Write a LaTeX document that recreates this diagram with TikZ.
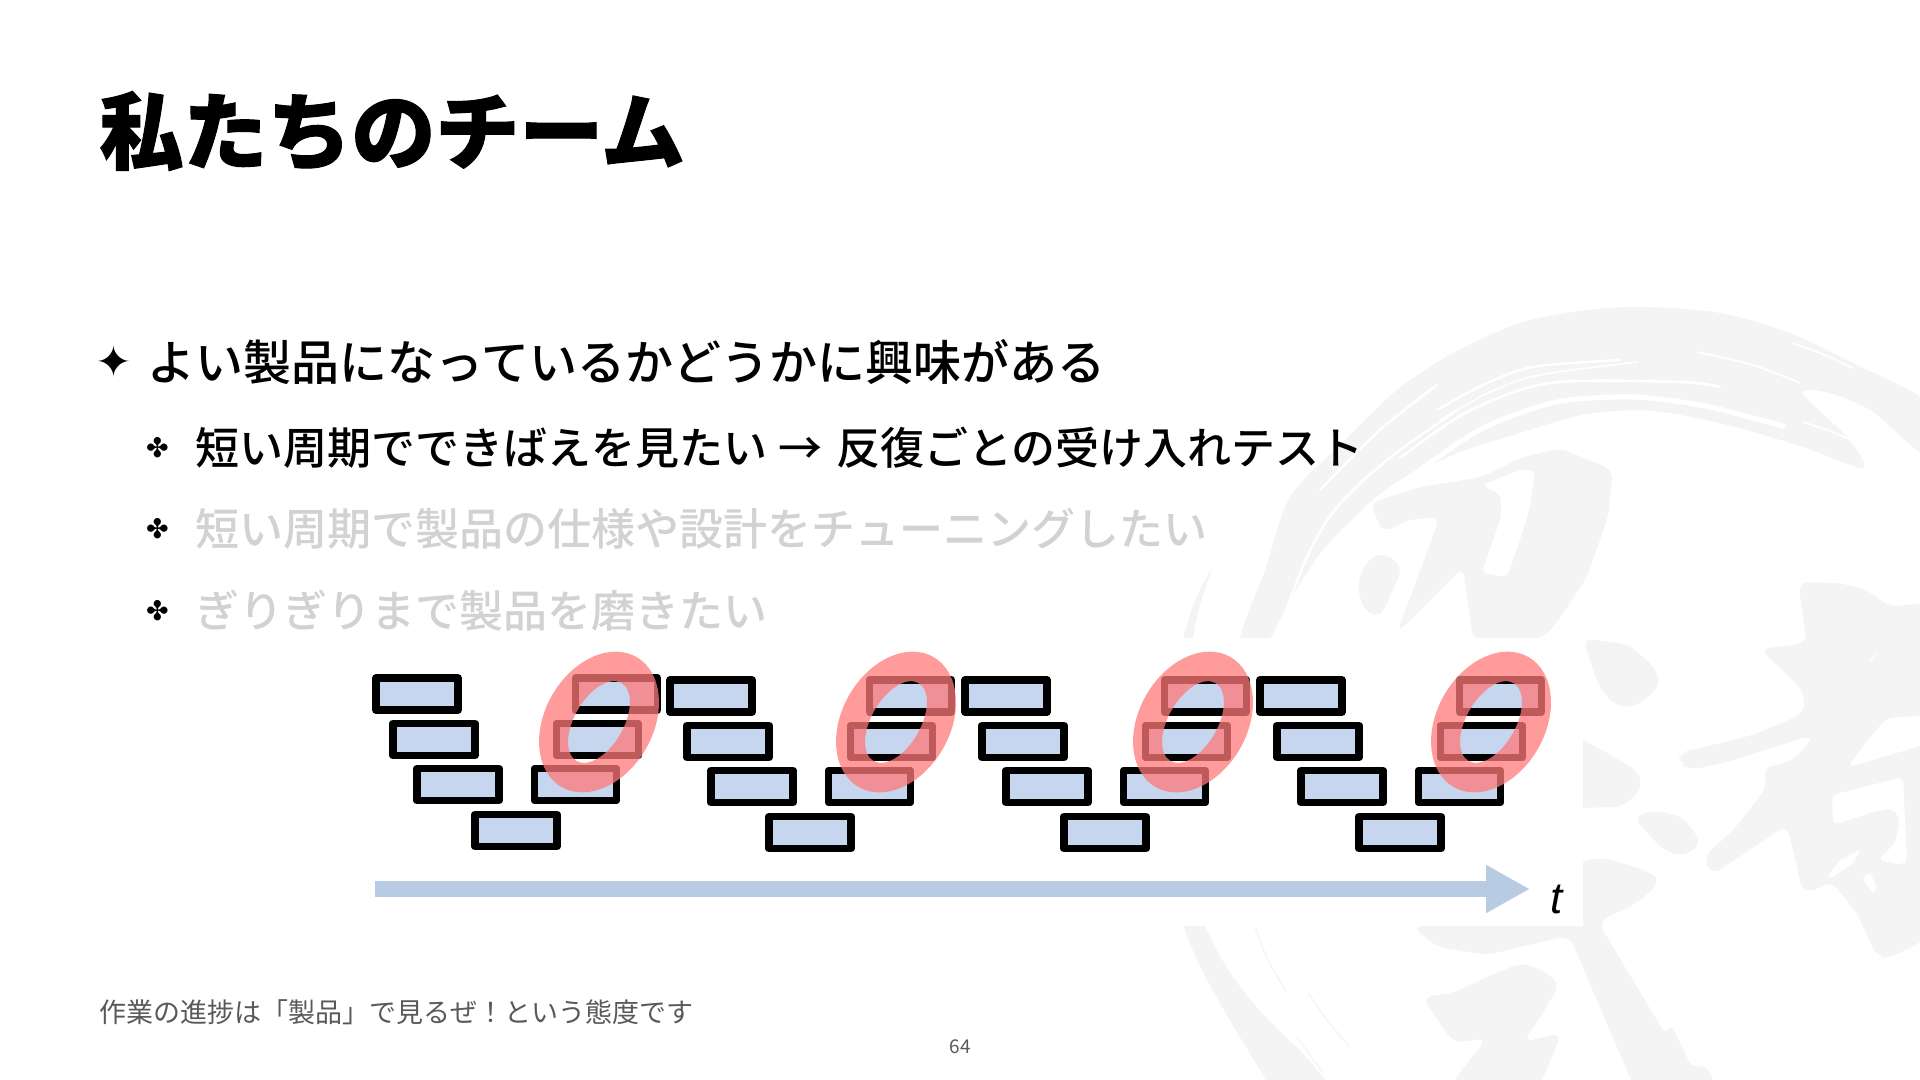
\documentclass[tikz,border=0pt]{standalone}
\usepackage{fontspec}
\usetikzlibrary{arrows.meta}
\setmainfont{Noto Sans CJK JP}
\newfontfamily\titlefont[FakeBold=1.2]{Noto Sans CJK JP Black}
\newfontfamily\itemfont{Noto Sans CJK JP Medium}
\newfontfamily\symbolfont{DejaVu Sans}
\newfontfamily\timefont{Liberation Sans}
\definecolor{slotblue}{HTML}{C5D6EE}
\definecolor{axisblue}{HTML}{B7CCE3}
\definecolor{hilite}{RGB}{255,121,121}
\definecolor{wmark}{HTML}{F4F4F4}
\definecolor{fadetext}{HTML}{D2D2D2}
\tikzset{
  slotbox/.style={draw=black, fill=slotblue, line width=3.75pt, line join=round, minimum width=41pt, minimum height=16pt, inner sep=0pt},
  wmarkshape/.style={fill=wmark, rounded corners=5pt},
  wmarkhole/.style={fill=white, rounded corners=3pt},
  streak/.style={draw=white, line width=0.9pt, line cap=round},
  itemtext/.style={anchor=west, inner sep=0pt, font=\itemfont\fontsize{22pt}{22pt}\selectfont},
  bullettext/.style={inner sep=0pt, font=\symbolfont\fontsize{13.5pt}{13.5pt}\selectfont}
}
\begin{document}
\begin{tikzpicture}[x=0.5pt, y=-0.5pt]
    \useasboundingbox (0,0) rectangle (1920,1080);

    % Brush ring behind everything
    \fill[wmark] plot[smooth cycle, tension=0.5] coordinates {(1240,640) (1265,570) (1290,497) (1340,445) (1397,390) (1453,353) (1520,323) (1587,310) (1647,307) (1720,313) (1787,332) (1853,363) (1930,405) (1930,458) (1870,410) (1825,392) (1803,394) (1847,437) (1863,468) (1803,447) (1727,425) (1653,411) (1587,414) (1520,433) (1453,455) (1387,490) (1327,545) (1290,600) (1268,640)};
    \fill[wmark] (1183,640) .. controls (1190,610) and (1200,585) .. (1213,567) .. controls (1204,590) and (1196,615) .. (1193,640) -- cycle;
    \fill[wmark] (1183,925) -- (1205,925) .. controls (1225,975) and (1260,1015) .. (1300,1050) -- (1327,1082) -- (1267,1082) .. controls (1230,1020) and (1200,975) .. cycle;

    % Gaps between the bristles
    \draw[streak] plot[smooth] coordinates {(1792,343) (1820,353) (1853,368)};
    \draw[streak] plot[smooth] coordinates {(1697,352) (1753,365) (1800,383)};
    \draw[streak, line width=1.2pt] plot[smooth] coordinates {(1437,410) (1483,385) (1533,367) (1620,360)};
    \draw[streak, line width=0.8pt] plot[smooth] coordinates {(1440,420) (1490,392) (1540,375) (1637,362)};
    \draw[streak, line width=1.3pt] plot[smooth] coordinates {(1400,458) (1467,412) (1550,383) (1680,382) (1720,387)};
    \draw[streak, line width=2.5pt] plot[smooth] coordinates {(1420,470) (1483,428) (1557,402) (1633,397) (1700,405) (1753,418) (1783,426)};
    \draw[streak, line width=2pt] plot[smooth] coordinates {(1420,470) (1370,505) (1320,565) (1285,640)};
    \draw[streak] plot[smooth] coordinates {(1803,422) (1827,430) (1847,438)};
    \draw[streak, line width=1.2pt] plot[smooth] coordinates {(1437,385) (1380,430) (1320,490)};
    \draw[streak, line width=1.2pt] plot[smooth] coordinates {(1453,413) (1387,460) (1337,507) (1307,557) (1275,640)};
    \draw[wmark, line width=0.7pt] plot[smooth] coordinates {(1255,927) (1268,960) (1287,993)};
    \draw[wmark, line width=0.7pt] plot[smooth] coordinates {(1308,993) (1327,1020) (1350,1047)};
    \draw[wmark, line width=0.7pt] plot[smooth] coordinates {(1297,1037) (1323,1073)};

    % Brush glyphs
    \fill[wmarkshape] (1370,503) -- (1420,487) -- (1482,477) -- (1520,458) -- (1560,448) -- (1613,470) -- (1608,517) -- (1587,577) -- (1557,623) -- (1540,640) -- (1473,640) -- (1463,567) -- (1397,633) -- (1440,517) -- (1407,520) -- (1383,533) -- cycle;
    \fill[wmarkhole] (1482,485) -- (1501,495) -- (1501,517) -- (1482,573) -- (1507,577) -- (1520,540) -- (1530,507) -- (1535,470) -- (1520,470) -- cycle;
    \fill[wmarkshape] (1383,552) -- (1403,567) -- (1393,590) -- (1380,618) -- (1363,610) -- (1357,583) -- (1367,560) -- cycle;
    \fill[wmarkshape] (1583,638) -- (1630,645) -- (1657,670) -- (1660,687) -- (1633,708) -- (1613,705) -- (1597,683) -- cycle;
    \fill[wmarkshape] (1575,735) -- (1637,770) -- (1643,787) -- (1623,807) -- (1575,808) -- cycle;
    \fill[wmarkshape] (1633,817) -- (1653,810) -- (1683,817) -- (1702,843) -- (1683,857) -- (1663,850) -- cycle;
    \fill[wmarkshape] (1412,926) -- (1575,926) -- (1575,863) -- (1603,857) -- (1653,873) -- (1660,883) -- (1637,903) -- (1598,922) -- (1667,1037) -- (1670,1022) -- (1693,1070) -- (1705,1063) -- (1716,1085) -- (1633,1085) -- (1570,937) -- (1563,937) -- (1520,947) -- (1487,955) -- (1437,947) -- cycle;
    \fill[wmarkshape] (1422,997) -- (1453,993) -- (1487,977) -- (1520,963) -- (1537,967) -- (1560,983) -- (1543,1013) -- (1523,1042) -- (1562,1033) -- (1540,1085) -- (1450,1085) -- (1487,1038) -- (1453,1043) -- (1440,1023) -- cycle;
    \fill[wmarkshape] (1798,582) -- (1840,583) -- (1867,590) -- (1890,607) -- (1930,602) -- (1930,937) -- (1890,958) -- (1877,957) -- (1857,913) -- (1830,880) -- (1823,887) -- (1803,893) -- (1787,825) -- (1712,875) -- (1703,858) -- (1738,825) -- (1768,785) -- (1762,768) -- (1790,762) -- (1810,743) -- (1813,735) -- (1727,762) -- (1690,770) -- (1678,763) -- (1680,752) -- (1700,748) -- (1753,735) -- (1805,713) -- (1803,690) -- (1760,649) -- (1807,643) -- cycle;
    \fill[wmarkhole] (1848,767) -- (1870,737) -- (1887,718) -- (1930,715) -- (1930,743) -- (1873,760) -- cycle;
    \fill[wmarkhole] (1832,795) -- (1903,777) -- (1907,860) -- (1903,865) -- (1878,860) -- (1895,843) -- (1900,820) -- (1893,808) -- (1873,812) -- (1833,825) -- cycle;
    \fill[white] (1827,877) -- (1840,860) -- (1860,850) -- (1853,863) -- (1833,877) -- cycle;
    \fill[white] (1863,877) -- (1870,873) -- (1877,887) -- (1873,893) -- (1865,883) -- cycle;
    \fill[white] (1868,662) -- (1877,652) -- (1873,660) -- cycle;

    % White panel under the chart
    \fill[white] (360,638) rectangle (1583,926);

    % Title
    \node[anchor=west, inner sep=0pt, font=\titlefont\fontsize{42pt}{42pt}\selectfont] (title) at (99,131) {私たちのチーム};

    % Items
    \node[bullettext, font=\symbolfont\fontsize{22pt}{22pt}\selectfont] (bulletone) at (114,361) {✦};
    \node[itemtext, font=\itemfont\fontsize{24pt}{24pt}\selectfont] (itemone) at (147,362) {よい製品になっているかどうかに興味がある};
    \node[bullettext] (bullettwo) at (157.5,448) {✤};
    \node[itemtext] (itemtwo) at (195,448) {短い周期でできばえを見たい\hspace{0.5pt} → \hspace{2pt}反復ごとの受け入れテスト};
    \node[bullettext] (bulletthree) at (157.5,529) {✤};
    \node[itemtext, text=fadetext] (itemthree) at (195,529) {短い周期で製品の仕様や設計をチューニングしたい};
    \node[bullettext] (bulletfour) at (157.5,611) {✤};
    \node[itemtext, text=fadetext] (itemfour) at (195,611) {ぎりぎりまで製品を磨きたい};

    % Iterations
    \foreach \n/\ox/\oy in {1/0/0, 2/294/2, 3/589/2, 4/884/2} {
      \foreach \m/\x/\y in {a/417/694, b/434/739.5, c/458/784.5, d/516/830.5, e/575.5/784.5, f/597.5/739.5, g/616.5/694} {
        \node[slotbox] (slot\n\m) at (\x+\ox,\y+\oy) {};
      }
    }

    % Acceptance marks
    \foreach \n/\cx in {1/599, 2/896, 3/1193, 4/1491} {
      \coordinate (mark\n) at (\cx,722);
      \fill[hilite, fill opacity=0.745, even odd rule] (mark\n) circle[x radius=75, y radius=54, rotate=60] (mark\n) circle[x radius=45, y radius=24.5, rotate=60];
    }

    % Time axis
    \coordinate (axisstart) at (375,889);
    \coordinate (axisend) at (1530,889);
    \draw[axisblue, line width=8pt, -{Triangle[length=22pt, width=22.5pt]}] (axisstart) -- (axisend);
    \node[inner sep=0pt, font=\timefont\itshape\fontsize{22pt}{22pt}\selectfont] (timelabel) at (1557,899) {t};

    % Footer
    \node[anchor=west, inner sep=0pt, text=black!65, font=\fontsize{13.5pt}{13.5pt}\selectfont] (footnote) at (99,1012) {作業の進捗は「製品」で見るぜ^^^^ff01という態度です};
    \node[inner sep=0pt, text=black!65, font=\fontsize{9.5pt}{9.5pt}\selectfont] (pagenum) at (960,1047) {64};
\end{tikzpicture}
\end{document}
